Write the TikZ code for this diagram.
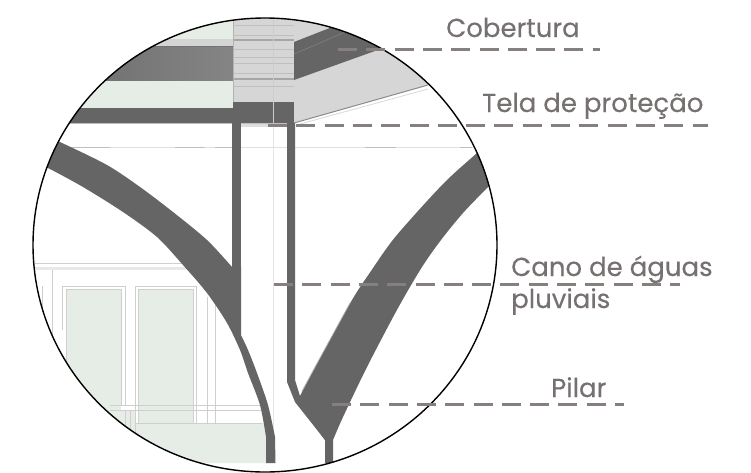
\documentclass[tikz,border=0pt]{standalone}
\usepackage{fontspec}
\setmainfont{Poppins}[FakeBold=0.25]
\definecolor{dk}{HTML}{656565}
\definecolor{pg}{HTML}{E6EDE7}
\definecolor{lg}{HTML}{D6D6D6}
\definecolor{fr}{HTML}{CFCFCF}
\definecolor{ld}{HTML}{857F7E}
\definecolor{tx}{HTML}{767170}
\tikzset{
  lead/.style={draw=ld,line width=3pt,dash pattern=on 19pt off 9.3pt},
  lab/.style={text=tx,font=\fontsize{26}{30}\selectfont,inner sep=0pt,anchor=base west},
  frame/.style={draw=fr,line width=.9pt},
  stripe/.style={draw=black!25,line width=1pt}
}
\begin{document}
\begin{tikzpicture}[x=1pt,y=-1pt]
\useasboundingbox (0,0) rectangle (751,472);
\fill[white] (0,0) rectangle (751,472);
\begin{scope}
\clip (265,245) ellipse [x radius=232,y radius=227];
% left roof
\fill[pg] (0,0) rectangle (233,39);
\fill[black!17] (0,39) rectangle (233,46);
\shade[left color=dk,right color=black!48] (0,46) rectangle (233,81);
\draw[black!55,line width=.8pt] (0,46)--(233,46) (0,81)--(233,81);
\fill[pg] (0,81) rectangle (233,108);
\fill[dk] (0,108) rectangle (294,123);
\draw[black!25,line width=.8pt] (0,123.5)--(294,123.5);
% central box
\fill[lg] (233,0) rectangle (294,102);
\fill[dk] (233,102) rectangle (294,123);
\foreach \yy in {25,35,49,57,63,73,86}{\draw[stripe] (233,\yy)--(294,\yy);}
\draw[black!35,line width=1.3pt] (233,40)--(294,40) (233,79)--(294,79);
\draw[black!30,line width=.8pt] (233,0)--(233,102) (294,0)--(294,102);
\draw[white!80!black,line width=.7pt] (273,0)--(273,123);
% right roof
\fill[lg] (294,0) -- (294,123) -- (428,85) -- (500,50) -- (500,0) -- cycle;
\fill[dk] (294,42) -- (345,22) -- (400,10) -- (400,42) -- (294,80) -- cycle;
\draw[black!50,line width=.6pt] (294,54) -- (350,30);
\draw[black!45,line width=1pt] (294,123) -- (428,85);
\draw[black!15,line width=.8pt] (300,124) -- (428,89);
% under-strip
\fill[black!13] (241,124) rectangle (287,127);
% thin lines
\draw[black!10,line width=.7pt] (273,127)--(273,463);
\draw[black!12,line width=1pt] (50,147)--(480,147);
\draw[black!25,line width=1pt] (60,147)--(110,147) (175,147)--(205,147) (215,147)--(232,147) (365,147)--(396,147) (460,147)--(472,147);
% windows
\fill[pg] (66,289) rectangle (121,420);
\fill[pg] (138,289) rectangle (193,423);
\fill[pg] (135,423) -- (268,423) -- (268,463) -- (100,463) -- (100,410) -- (135,410) -- cycle;
\draw[frame,line width=1pt] (20,263)--(185,263);
\fill[black!9] (20,266.5) rectangle (195,270);
\draw[frame] (52,270)--(52,350);
\draw[frame] (42,286)--(42,310);
\draw[frame] (62,330)--(62,286)--(125,286)--(125,405);
\draw[frame] (66,420)--(66,289)--(121,289)--(121,405);
\draw[frame] (135,423)--(135,286)--(196,286)--(196,423);
\draw[frame] (138,423)--(138,289)--(193,289)--(193,423);
\draw[frame] (207,297)--(207,423) (215,305)--(215,423);
\draw[frame] (110,405)--(262,405) (110,410)--(262,410);
\draw[frame] (135,423)--(262,423);
\draw[frame] (125,410)--(125,440) (130,410)--(130,440) (135,423)--(135,450);
\draw[frame] (268,423)--(268,463);
% white mask below drawing
\fill[white] (0,463.5) rectangle (751,472);
% pillars
\fill[dk] (232,123) rectangle (241,300);
\fill[dk] (287,123) -- (295,123) -- (295,380) -- (300,396) -- (333,430) -- (325,440) -- (295,402) -- (287,382) -- cycle;
% left arch with its lower tail
\fill[dk] plot[smooth,tension=.5] coordinates {(40,134) (62,143) (107,165) (140,187) (173,212) (207,240) (232,267)}
  -- (241,267) -- (241,335)
  -- plot[smooth,tension=.5] coordinates {(241,335) (248,350) (257,373) (268,405) (275,437)}
  -- (275.5,463) -- (266,463) -- (266,437)
  -- plot[smooth,tension=.5] coordinates {(266,437) (260,405) (248,373) (240,350) (227,323) (207,293) (183,265) (157,237) (123,212) (83,187) (48,168) (30,160)}
  -- cycle;
% right arch
\fill[dk] (300,396)
  -- plot[smooth,tension=.5] coordinates {(300,396) (320,358) (352,300) (371,271) (392,241) (418,211) (447,180) (477,153) (495,137)}
  -- (520,137) -- (520,170)
  -- plot[smooth,tension=.5] coordinates {(505,170) (488,187) (463,213) (441,240) (422,267) (398,308) (367,367) (343,417) (333,440)}
  -- (333,463) -- (325,463) -- (325,440) -- (300,405) -- cycle;
\draw[black!30,line width=.7pt] (302,391) -- (350,303);
\end{scope}
\draw[black,line width=1.4pt] (265,245) ellipse [x radius=232,y radius=227];
% labels
\node[lab] (cob) at (446,37) {Cobertura};
\node[lab] (tela) at (482,112) {Tela de proteção};
\node[lab] (cano) at (511,276) {Cano de águas};
\node[lab] (pluv) at (511,308) {pluviais};
\node[lab] (pil) at (551,397) {Pilar};
% leaders
\coordinate (c1) at (338,49); \coordinate (c2) at (600,49);
\coordinate (t1) at (268,125); \coordinate (t2) at (708,125);
\coordinate (p1) at (274,284); \coordinate (p2) at (680,284);
\coordinate (i1) at (332,404); \coordinate (i2) at (624,404);
\draw[lead] (c1)--(c2);
\draw[lead] (t1)--(t2);
\draw[lead] (p1)--(p2);
\draw[lead] (i1)--(i2);
\end{tikzpicture}
\end{document}
